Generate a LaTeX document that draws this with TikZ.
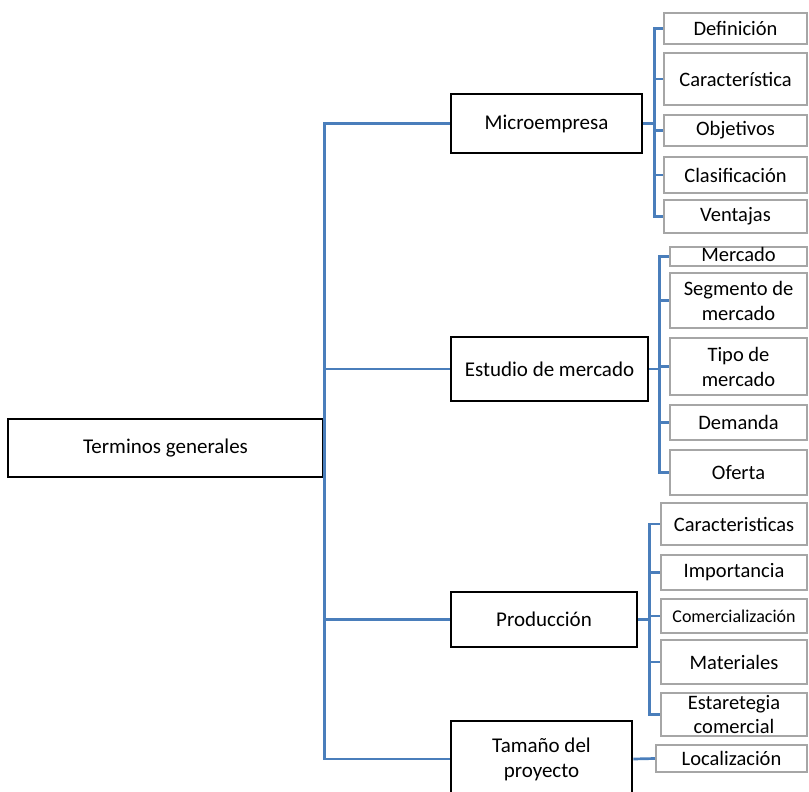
\documentclass[tikz,border=0pt]{standalone}
\usepackage{fontspec}
\setmainfont{Carlito}
\definecolor{linkblue}{HTML}{4A7EBB}
\definecolor{leafgray}{HTML}{A6A6A6}
\begin{document}
\begin{tikzpicture}[x=1pt,y=-1pt,
  branch/.style={draw=linkblue,line width=2.7pt},
  topic/.style={draw=black,line width=2.6pt,fill=white,inner sep=0pt,
    align=center,font=\fontsize{21}{25}\selectfont},
  leaf/.style={draw=leafgray,line width=2.4pt,fill=white,inner sep=0pt,
    align=center,font=\fontsize{20.5}{25}\selectfont},
  mleaf/.style={leaf,minimum width=143pt},
  eleaf/.style={leaf,minimum width=137pt},
  pleaf/.style={leaf,minimum width=146pt},
]
\useasboundingbox (0,0) rectangle (809,792);

% root and main topics
\node[topic,minimum width=315pt,minimum height=58pt] (root) at (165.5,448) {Terminos generales};
\node[topic,minimum width=191pt,minimum height=59pt] (micro) at (546.5,123.5) {Microempresa};
\node[topic,minimum width=197pt,minimum height=64pt] (estu) at (549.5,369) {Estudio de mercado};
\node[topic,minimum width=186pt,minimum height=55pt] (prod) at (544,619.5) {Producción};
\node[topic,minimum width=181pt,minimum height=76pt] (tama) at (541.5,759) {Tamaño del\\proyecto};

% Microempresa
\node[mleaf,minimum height=31pt] (def) at (735.5,28.5) {Definición};
\node[mleaf,minimum height=52pt] (car) at (735.5,79) {Característica};
\node[mleaf,minimum height=31pt] (obj) at (735.5,130.5) {Objetivos};
\node[mleaf,minimum height=36pt] (cla) at (735.5,175) {Clasificación};
\node[mleaf,minimum height=33pt] (ven) at (735.5,216.5) {Ventajas};

% Estudio de mercado
\node[eleaf,minimum height=19pt,text height=13pt,text depth=4pt] (mer) at (738.5,256.5) {Mercado};
\node[eleaf,minimum height=55pt] (seg) at (738.5,300.5) {Segmento de\\mercado};
\node[eleaf,minimum height=57pt] (tip) at (738.5,366.5) {Tipo de\\mercado};
\node[eleaf,minimum height=35pt] (dem) at (738.5,422.5) {Demanda};
\node[eleaf,minimum height=45pt] (ofe) at (738.5,472.5) {Oferta};

% Producción
\node[pleaf,minimum height=42pt] (pca) at (734,524) {Caracteristicas};
\node[pleaf,minimum height=35pt] (imp) at (734,572.5) {Importancia};
\node[pleaf,minimum height=34pt,font=\fontsize{18}{22}\selectfont] (com) at (734,616) {Comercialización};
\node[pleaf,minimum height=44pt] (mat) at (734,662) {Materiales};
\node[pleaf,minimum height=43pt,font=\fontsize{20.5}{24}\selectfont] (est) at (734,714.5) {Estaretegia\\comercial};

% Tamaño del proyecto
\node[leaf,minimum width=151pt,minimum height=27pt] (loc) at (731.5,758.5) {Localización};

% trunk
\foreach \t in {micro,estu,prod,tama}
  \draw[branch] (root.east) |- (\t.west);

% brackets
\foreach \c in {def,car,obj,cla,ven}
  \draw[branch] (micro.east) -- ++(11,0) |- (\c.west);
\foreach \c in {mer,seg,tip,dem,ofe}
  \draw[branch] (estu.east) -- ++(10,0) |- (\c.west);
\foreach \c in {pca,imp,com,mat,est}
  \draw[branch] (prod.east) -- ++(11,0) |- (\c.west);
\draw[branch] (tama.east) -- (loc.west);
\end{tikzpicture}
\end{document}
